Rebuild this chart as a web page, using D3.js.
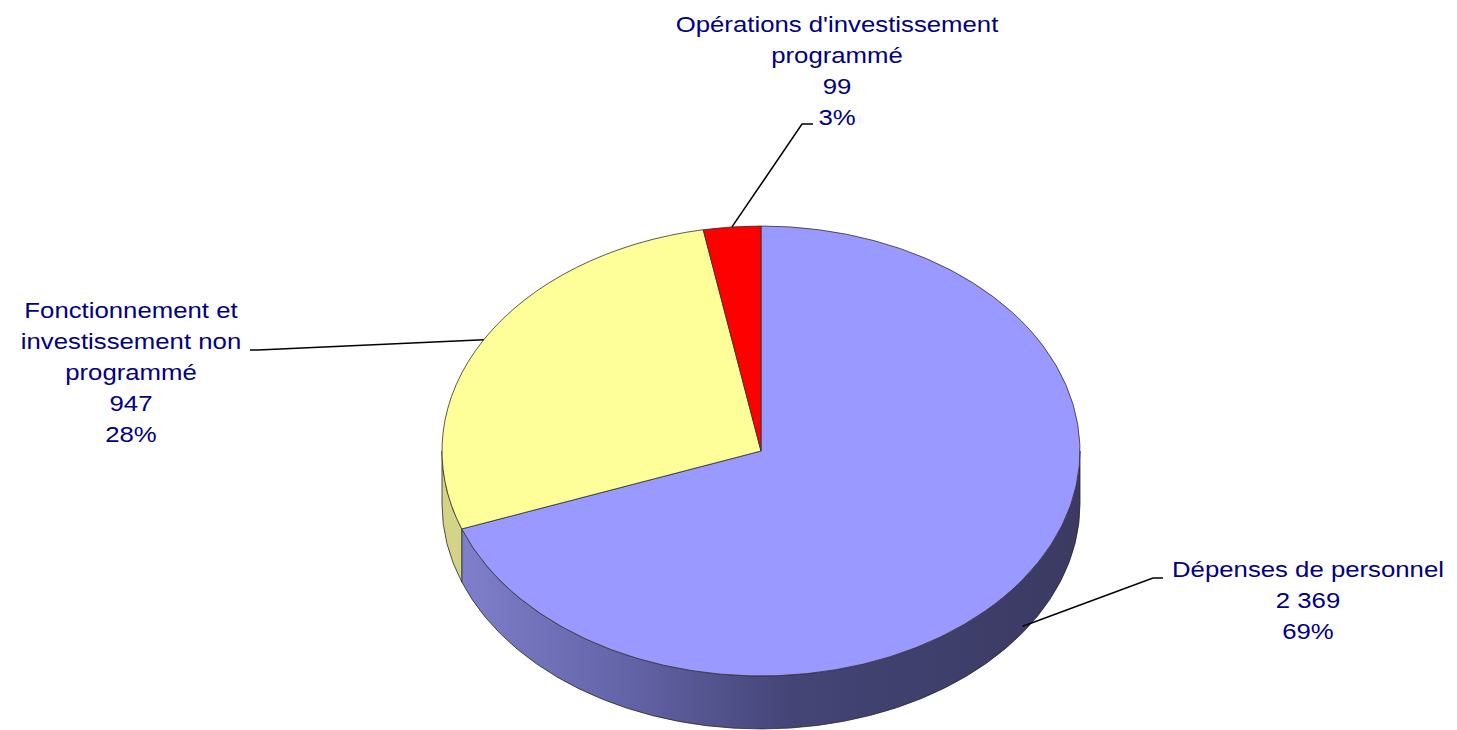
<!DOCTYPE html>
<html>
<head>
<meta charset="utf-8">
<script src="https://cdn.jsdelivr.net/npm/d3@7"></script>
<style>
  body { margin: 0; background: #fff; }
  svg { display: block; }
  .lbl { font-family: "Liberation Sans", Arial, sans-serif; fill: #000080; }
</style>
</head>
<body>
<svg id="drawing_region"></svg>
<script>
// data
const categories = ["Dépenses de personnel", "Fonctionnement et investissement non programmé", "Opérations d'investissement programmé"];
const values = [2369, 947, 99];
const valueLabels = ["2 369", "947", "99"];
const pctLabels = ["69%", "28%", "3%"];
const labelLines = [
    ["Dépenses de personnel"],
    ["Fonctionnement et", "investissement non", "programmé"],
    ["Opérations d'investissement", "programmé"]
];
const topColors = ["#9999ff", "#ffff99", "#ff0000"];
const sideColors = ["url(#blueSide)", "#d4d488", "#b00000"];

const config = {
    width: 1457, height: 730,
    cx: 761, cy: 451, rx: 319, ry: 225, depth: 53
};

// label anchors (x centre, first baseline) and leader lines
const labelPos = [
    {x: 1308, y: 577, leader: [[0, 0], [1153, 578], [1163, 578]]},
    {x: 131,  y: 318, leader: [[0, 0], [258, 350], [250, 350]]},
    {x: 837,  y: 32,  leader: [[0, 0], [802, 124], [813, 124]]}
];

const svg = d3.select('#drawing_region')
    .attr('width', config.width)
    .attr('height', config.height);

const defs = svg.append('defs');
const grad = defs.append('linearGradient')
    .attr('id', 'blueSide')
    .attr('gradientUnits', 'userSpaceOnUse')
    .attr('x1', config.cx - config.rx).attr('x2', config.cx + config.rx)
    .attr('y1', 0).attr('y2', 0);
[[0, '#8282cf'], [0.3, '#6262a6'], [0.55, '#444476'], [1, '#3a3a62']].forEach(s => {
    grad.append('stop').attr('offset', s[0]).attr('stop-color', s[1]);
});

const pie = d3.pie().sort(null).value(d => d);
const arcs = pie(values);

const P = (a, dy = 0) => [config.cx + config.rx * Math.sin(a), config.cy - config.ry * Math.cos(a) + dy];

// sides (front half only: angle PI/2 .. 3PI/2)
const sides = svg.append('g');
arcs.forEach((d, i) => {
    const s = Math.max(d.startAngle, Math.PI / 2);
    const e = Math.min(d.endAngle, 3 * Math.PI / 2);
    if (e <= s) return;
    const p0 = P(s), p1 = P(e), p2 = P(e, config.depth), p3 = P(s, config.depth);
    const path = `M${p0}A${config.rx},${config.ry} 0 0 1 ${p1}L${p2}A${config.rx},${config.ry} 0 0 0 ${p3}Z`;
    sides.append('path')
        .attr('d', path)
        .attr('fill', sideColors[i])
        .attr('stroke', '#2a2a2a')
        .attr('stroke-width', 0.8)
        .attr('stroke-linejoin', 'round');
});

// top faces
const tops = svg.append('g');
arcs.forEach((d, i) => {
    const p0 = P(d.startAngle), p1 = P(d.endAngle);
    const large = (d.endAngle - d.startAngle) > Math.PI ? 1 : 0;
    const path = `M${config.cx},${config.cy}L${p0}A${config.rx},${config.ry} 0 ${large} 1 ${p1}Z`;
    tops.append('path')
        .attr('d', path)
        .attr('fill', topColors[i])
        .attr('stroke', '#303030')
        .attr('stroke-width', 0.8)
        .attr('stroke-linejoin', 'round');
});

// leader lines: first point on the pie at the slice middle angle
const leaders = svg.append('g');
arcs.forEach((d, i) => {
    const mid = (d.startAngle + d.endAngle) / 2;
    // blue slice: leader starts low on its side wall
    const start = i === 0 ? P(mid, config.depth * 0.88) : P(mid);
    const pts = [start].concat(labelPos[i].leader.slice(1));
    leaders.append('path')
        .attr('d', d3.line()(pts))
        .attr('fill', 'none')
        .attr('stroke', '#000')
        .attr('stroke-width', 1.5);
});

// labels
const lineH = 31;
arcs.forEach((d, i) => {
    const lines = labelLines[i].concat([valueLabels[i], pctLabels[i]]);
    const g = svg.append('g');
    lines.forEach((t, k) => {
        g.append('text')
            .attr('class', 'lbl')
            .attr('text-anchor', 'middle')
            .attr('font-size', 23)
            .attr('transform', `translate(${labelPos[i].x},${labelPos[i].y + k * lineH}) scale(1.12,1)`)
            .text(t);
    });
});
</script>
</body>
</html>
